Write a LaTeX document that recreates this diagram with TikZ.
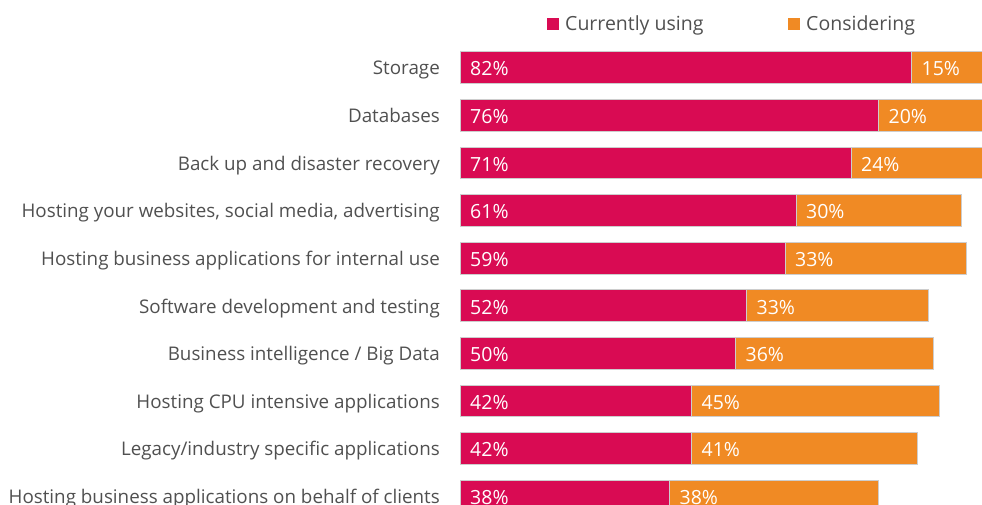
\documentclass[tikz,border=0pt]{standalone}
\usepackage{fontspec}
\setmainfont{Open Sans}
\definecolor{curcol}{RGB}{217,11,83}
\definecolor{concol}{RGB}{240,138,36}
\definecolor{labcol}{RGB}{80,80,80}
\definecolor{edgecol}{RGB}{205,205,205}
\begin{document}
\begin{tikzpicture}[x=1pt,y=1pt,
  catlab/.style={anchor=base east, inner sep=0pt, text=labcol, font=\fontsize{18.8}{22}\selectfont},
  curbar/.style={anchor=west, inner sep=0pt, fill=curcol, draw=edgecol, line width=0.4pt, minimum height=31.7pt},
  conbar/.style={anchor=west, inner sep=0pt, fill=concol, draw=edgecol, line width=0.4pt, minimum height=31.7pt},
  vallab/.style={anchor=base west, inner sep=0pt, text=white, font=\fontsize{19.5}{22}\selectfont},
  legbox/.style={inner sep=0pt, minimum size=12pt, anchor=south west},
  legtext/.style={anchor=base west, inner sep=0pt, text=labcol, font=\fontsize{19.5}{22}\selectfont}]
\useasboundingbox (0,0) rectangle (982,-505);
\clip (0,0) rectangle (982,-505);
% legend
\node[legbox, fill=curcol] (lk1) at (547,-30) {};
\node[legtext] (lt1) at (565,-31) {Currently using};
\node[legbox, fill=concol] (lk2) at (788,-30) {};
\node[legtext] (lt2) at (806,-31) {Considering};
% bars
\foreach \lab/\a/\b [count=\i from 0] in {
  {Storage}/82/15,
  {Databases}/76/20,
  {Back up and disaster recovery}/71/24,
  {Hosting your websites, social media, advertising}/61/30,
  {Hosting business applications for internal use}/59/33,
  {Software development and testing}/52/33,
  {Business intelligence / Big Data}/50/36,
  {Hosting CPU intensive applications}/42/45,
  {Legacy/industry specific applications}/42/41,
  {Hosting business applications on behalf of clients}/38/38} {
  \pgfmathsetmacro\yy{-(67.5+47.6*\i)}
  \node[curbar, minimum width=\a*5.5pt] (cur\i) at (460,\yy) {};
  \node[conbar, minimum width=\b*5.5pt] (con\i) at (cur\i.east) {};
  \node[catlab] (lab\i) at ([yshift=-7.5pt]cur\i.west -| 440,0) {\lab};
  \node[vallab] (va\i) at ([xshift=10pt,yshift=-8.5pt]cur\i.west) {\a\%};
  \node[vallab] (vb\i) at ([xshift=10pt,yshift=-8.5pt]con\i.west) {\b\%};
}
\end{tikzpicture}
\end{document}
